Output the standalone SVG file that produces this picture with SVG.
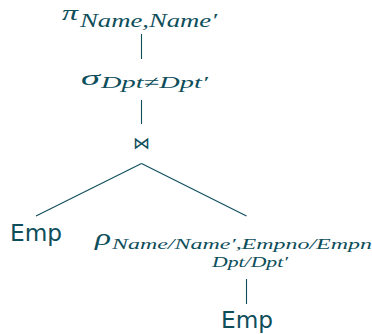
<svg xmlns="http://www.w3.org/2000/svg" width="372" height="334" viewBox="0 0 372 334">
<style>
.c{stroke:#0e4e5b;stroke-width:1.1;fill:none}
.m{font-family:"Liberation Serif","DejaVu Serif",serif;font-style:italic;fill:#0e4e5b}
.s{font-family:"DejaVu Sans","Liberation Sans",sans-serif;fill:#0e4e5b}
</style>
<rect width="372" height="334" fill="#ffffff"/>
<g id="connectors">
<line class="c" x1="141.5" y1="34" x2="141.5" y2="59"/>
<line class="c" x1="141.5" y1="100" x2="141.5" y2="124"/>
<line class="c" x1="141.5" y1="163.5" x2="36" y2="216"/>
<line class="c" x1="141.5" y1="163.5" x2="246.5" y2="216"/>
<line class="c" x1="246.5" y1="279" x2="246.5" y2="304"/>
</g>
<g id="n-pi">
<text class="m" x="62" y="20" font-size="22" textLength="16" lengthAdjust="spacingAndGlyphs">π</text>
<text class="m" x="80" y="27" font-size="18" textLength="137" lengthAdjust="spacingAndGlyphs">Name,Name′</text>
</g>
<g id="n-sigma">
<text class="m" x="81" y="85" font-size="22" textLength="19" lengthAdjust="spacingAndGlyphs">σ</text>
<text class="m" x="101" y="88" font-size="17" textLength="107" lengthAdjust="spacingAndGlyphs">Dpt≠Dpt′</text>
</g>
<g id="n-join">
<text class="s" x="141.5" y="149" font-size="17" text-anchor="middle">⋈</text>
</g>
<g id="n-emp1">
<text class="s" x="10" y="241" font-size="23" textLength="52" lengthAdjust="spacingAndGlyphs">Emp</text>
</g>
<g id="n-rho">
<text class="m" x="95" y="245" font-size="23" textLength="16" lengthAdjust="spacingAndGlyphs">ρ</text>
<text class="m" x="112" y="249" font-size="15" textLength="260" lengthAdjust="spacingAndGlyphs">Name/Name′,Empno/Empn</text>
<text class="m" x="212" y="267" font-size="15" textLength="76" lengthAdjust="spacingAndGlyphs">Dpt/Dpt′</text>
</g>
<g id="n-emp2">
<text class="s" x="221" y="328" font-size="23" textLength="52" lengthAdjust="spacingAndGlyphs">Emp</text>
</g>
</svg>
